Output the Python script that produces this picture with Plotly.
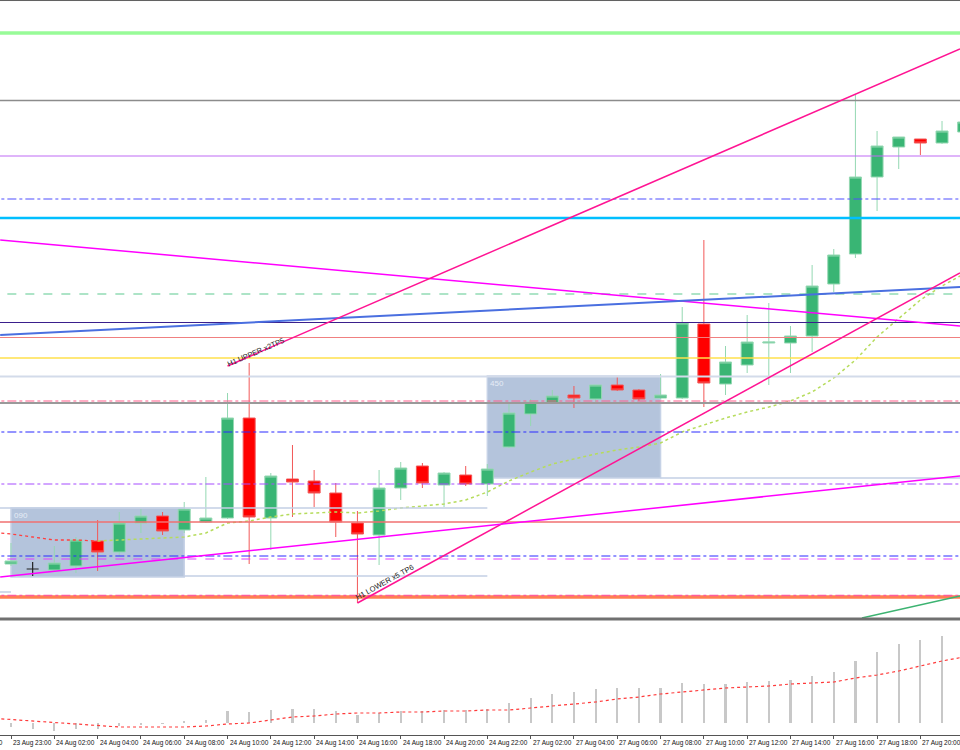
import plotly.graph_objects as go

# bar index (H1 bars), k=1 is a doji drawn separately
bar_idx = [0, 2, 3, 4, 5, 6, 7, 8, 9, 10, 11, 12, 13, 14, 15, 16, 17, 18, 19, 20, 21, 22,
           23, 24, 25, 26, 27, 28, 29, 30, 31, 32, 33, 34, 35, 36, 37, 38, 39, 40, 41, 42, 43, 44]
opens = [54, 48, 52, 77, 66, 95, 102, 88, 96, 100, 200, 100, 139, 137, 125, 95, 83, 130, 152, 133, 143, 134,
         171, 204, 215, 223, 219, 233, 228, 220, 220, 294, 234, 253, 275, 275, 282, 334, 364, 441, 471, 479, 475, 486]
highs = [75, 72, 81, 98, 106, 109, 106, 116, 141, 225, 255, 145, 173, 148, 135, 107, 148, 156, 155, 146, 152, 154,
         215, 219, 228, 232, 233, 241, 229, 244, 311, 378, 272, 303, 315, 292, 353, 369, 523, 487, 481, 479, 497, 500]
lows = [52, 46, 45, 47, 62, 85, 83, 85, 95, 99, 54, 68, 101, 111, 81, 15, 53, 118, 130, 111, 132, 122,
        170, 192, 214, 210, 215, 227, 217, 219, 219, 211, 223, 245, 233, 245, 266, 326, 360, 407, 449, 463, 474, 484]
closes = [57, 55, 78, 66, 95, 102, 87, 109, 100, 200, 101, 142, 136, 125, 96, 84, 130, 150, 135, 145, 134, 149,
          205, 216, 222, 220, 233, 228, 219, 223, 295, 235, 256, 276, 276, 282, 332, 363, 441, 472, 481, 475, 487, 496]

doji_idx = [1]
doji_open = [49]
doji_high = [56]
doji_low = [42]
doji_close = [49]

# moving average (two-colour), starts one bar left of the window
ma_idx = list(range(-1, 45))
ma_vals = [86, 84, 81, 78, 78, 77, 78, 79, 80, 81, 85, 95, 97, 101, 104, 105, 106, 105, 107, 110, 112, 114, 118,
           126, 137, 146, 154, 159, 164, 168, 171, 175, 186, 193, 200, 206, 211, 217, 226, 240, 258, 281, 300,
           318, 332, 344]

# MACD sub-window
macd_idx = list(range(-1, 45))
macd_hist = [0, -4, -6, -8, -6, -6, -3, -2, -1, 2, 3, 12, 11, 13, 14, 14, 12, 8, 10, 12, 12, 13, 13, 14, 20, 25,
             29, 31, 34, 35, 35, 35, 40, 39, 39, 41, 42, 43, 47, 51, 62, 71, 79, 83, 87, 90]
macd_signal = [5, 3.5, 2, 0, -1, -3, -4, -4, -4, -4, -3, -1, 0, 3, 6, 7, 9, 10, 10, 11, 11, 12, 12, 13, 13, 15,
               17, 19, 21, 24, 26, 29, 31, 33, 35, 36, 37, 39, 40, 41, 45, 48, 52, 57, 62, 66]

tick_idx = [0, 2, 4, 6, 8, 10, 12, 14, 16, 18, 20, 22, 24, 26, 28, 30, 32, 34, 36, 38, 40, 42]
tick_text = ["23 Aug 23:00", "24 Aug 02:00", "24 Aug 04:00", "24 Aug 06:00", "24 Aug 08:00",
             "24 Aug 10:00", "24 Aug 12:00", "24 Aug 14:00", "24 Aug 16:00", "24 Aug 18:00",
             "24 Aug 20:00", "24 Aug 22:00", "27 Aug 02:00", "27 Aug 04:00", "27 Aug 06:00",
             "27 Aug 08:00", "27 Aug 10:00", "27 Aug 12:00", "27 Aug 14:00", "27 Aug 16:00",
             "27 Aug 18:00", "27 Aug 20:00"]

# horizontal levels
levels = [585, 517.5, 462, 419, 400, 324, 295.5, 280.5, 260, 241.5, 217, 215, 186, 134, 96, 62, 59, 21, 22.5]
level_style = [("#98fb98", 3.5, "solid"), ("#8c8c8c", 1.5, "solid"), ("#bf6bf5", 1, "solid"),
               ("#4f4fff", 1.2, "dashdot"), ("#00bfff", 2.5, "solid"), ("#5cc98f", 1.2, "dash"),
               ("#3a1f8c", 1, "solid"), ("#f08080", 1.2, "solid"), ("#ffe14d", 1.5, "solid"),
               ("#d3dbea", 2, "solid"), ("#ff5c8a", 1.2, "dashdot"), ("#9a9a9a", 2, "solid"),
               ("#2a2aff", 1.2, "dashdot"), ("#a64dff", 1.2, "dashdot"), ("#f07070", 1.5, "solid"),
               ("#2a2aff", 1.2, "dashdot"), ("#e040fb", 1.2, "dash"), ("#ff7f50", 3.5, "solid"),
               ("#ff5c9a", 1.5, "dashdot")]

# partial level segments: (start bar, end bar, level)
seg_start = [-1, 8, 30, -1]
seg_end = [22, 22, 46, 0]
seg_level = [110, 42, 140, 26]

# rectangles: bars and price bounds
rect_x0 = [0, 22]
rect_x1 = [8, 30]
rect_lo = [41, 140]
rect_hi = [110, 242]
rect_label = ["090", "450"]

# trend lines: (bar, price) anchors
tl_x0 = [-0.5, -0.5, 10, 16, -0.5, 39.3]
tl_y0 = [378, 283, 252, 15, 41, 0]
tl_x1 = [43.83, 43.83, 43.83, 43.83, 43.83, 43.83]
tl_y1 = [292, 331, 569, 345, 142, 22]
tl_style = [("#ff00ff", 1.5), ("#4a6fe0", 2), ("#ff1493", 1.5), ("#ff1493", 1.5), ("#ff00ff", 1.5), ("#3cb371", 1.5)]

fig = go.Figure()

fig.add_trace(go.Candlestick(
    x=bar_idx, open=opens, high=highs, low=lows, close=closes,
    increasing=dict(line=dict(color="#94d8b2", width=1), fillcolor="#39b574"),
    decreasing=dict(line=dict(color="#f25858", width=1), fillcolor="#ff0000"),
    whiskerwidth=0, hoverinfo="skip", showlegend=False))
fig.add_trace(go.Candlestick(
    x=doji_idx, open=doji_open, high=doji_high, low=doji_low, close=doji_close,
    increasing=dict(line=dict(color="#222222", width=1.2), fillcolor="#222222"),
    decreasing=dict(line=dict(color="#222222", width=1.2), fillcolor="#222222"),
    whiskerwidth=0, hoverinfo="skip", showlegend=False))

fig.add_trace(go.Scatter(x=ma_idx[:6], y=ma_vals[:6], mode="lines",
                         line=dict(color="#ff4040", width=1.3, dash="dot"), showlegend=False, hoverinfo="skip"))
fig.add_trace(go.Scatter(x=ma_idx[5:], y=ma_vals[5:], mode="lines",
                         line=dict(color="#b6dc5c", width=1.5, dash="dot"), showlegend=False, hoverinfo="skip"))

fig.add_trace(go.Bar(x=macd_idx, y=macd_hist, width=0.1, marker=dict(color="#c8c8c8", line=dict(width=0)),
                     yaxis="y2", showlegend=False, hoverinfo="skip"))
fig.add_trace(go.Scatter(x=macd_idx, y=macd_signal, mode="lines", yaxis="y2",
                         line=dict(color="#ff3a3a", width=1.2, dash="dot"), showlegend=False, hoverinfo="skip"))

# rectangles (background)
for x0, x1, lo, hi, lab in zip(rect_x0, rect_x1, rect_lo, rect_hi, rect_label):
    fig.add_shape(type="rect", xref="x", yref="y", x0=x0, x1=x1, y0=lo, y1=hi,
                  fillcolor="#b4c4dc", line=dict(color="#c6d2e6", width=1.5), layer="below")
    fig.add_annotation(x=x0, y=hi, xref="x", yref="y", text=lab, showarrow=False,
                       xanchor="left", yanchor="top", xshift=1, yshift=-1,
                       font=dict(family="Liberation Sans", size=8, color="#e6ecf6"))

for lv, (col, w, dash) in zip(levels, level_style):
    fig.add_shape(type="line", xref="x", yref="y", x0=-1, x1=46, y0=lv, y1=lv,
                  line=dict(color=col, width=w, dash=dash))

for s0, s1, lv in zip(seg_start, seg_end, seg_level):
    fig.add_shape(type="line", xref="x", yref="y", x0=s0, x1=s1, y0=lv, y1=lv,
                  line=dict(color="#c3cfe5", width=1.5))

for x0, y0, x1, y1, (col, w) in zip(tl_x0, tl_y0, tl_x1, tl_y1, tl_style):
    fig.add_shape(type="line", xref="x", yref="y", x0=x0, y0=y0, x1=x1, y1=y1,
                  line=dict(color=col, width=w))

fig.add_annotation(x=11.27, y=266, xref="x", yref="y", text="H1 UPPER x2TP5", showarrow=False,
                   textangle=-23.4, font=dict(family="Liberation Sans", size=7.5, color="#222"))
fig.add_annotation(x=17.23, y=36, xref="x", yref="y", text="H1 LOWER x5 TP6", showarrow=False,
                   textangle=-28.7, font=dict(family="Liberation Sans", size=7.5, color="#222"))

# frame lines
fig.add_shape(type="line", xref="paper", yref="paper", x0=0, x1=1, y0=0.9993, y1=0.9993,
              line=dict(color="#606060", width=1))
fig.add_shape(type="line", xref="paper", yref="paper", x0=0, x1=1, y0=0.1747, y1=0.1747,
              line=dict(color="#707070", width=3))

# time labels
for k, t in zip(tick_idx, tick_text):
    fig.add_annotation(x=k, y=0.0093, xref="x", yref="paper", text=t, showarrow=False,
                       xanchor="left", yanchor="middle", xshift=0,
                       font=dict(family="Liberation Sans", size=6.5, color="#111"))
fig.add_annotation(x=-0.508, y=0.0093, xref="x", yref="paper", text="23 Aug 21:00", showarrow=False,
                   xanchor="right", yanchor="middle", xshift=5,
                   font=dict(family="Liberation Sans", size=6.5, color="#111"))

fig.update_layout(
    width=960, height=750,
    margin=dict(l=0, r=0, t=0, b=0),
    paper_bgcolor="white", plot_bgcolor="white",
    boxgap=0.21, bargap=0,
    showlegend=False, hovermode=False,
    xaxis=dict(range=[-0.508, 43.83], anchor="y2", showgrid=False, zeroline=False,
               rangeslider=dict(visible=False), showline=True, linecolor="#555", linewidth=1,
               ticks="outside", ticklen=3, tickcolor="#555", tickvals=tick_idx, showticklabels=False),
    yaxis=dict(domain=[0.176, 1], range=[0, 618], showgrid=False, zeroline=False,
               showticklabels=False, ticks=""),
    yaxis2=dict(domain=[0.02, 0.17333], range=[-12, 103], showgrid=False, zeroline=False,
                showticklabels=False, ticks=""),
)

fig.write_html("out.html", config=dict(displayModeBar=False),
               post_script="document.body.style.margin='0';")
